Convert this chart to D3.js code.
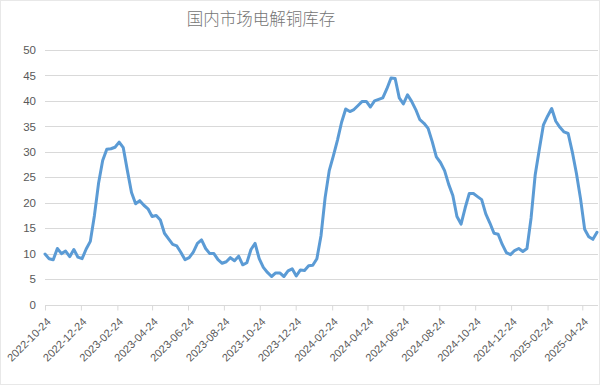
<!DOCTYPE html>
<html>
<head>
<meta charset="utf-8">
<script src="https://cdn.jsdelivr.net/npm/d3@7"></script>
<style>
  body { margin: 0; background: #fff; }
  text { font-family: "Liberation Sans", Arial, sans-serif; }
</style>
</head>
<body>
<div id="chart"></div>
<script>
// 周度日期（周一）
var dates = [
  "2022-10-24","2022-10-31","2022-11-07","2022-11-14","2022-11-21","2022-11-28","2022-12-05","2022-12-12","2022-12-19","2022-12-26",
  "2023-01-02","2023-01-09","2023-01-16","2023-01-23","2023-01-30","2023-02-06","2023-02-13","2023-02-20","2023-02-27",
  "2023-03-06","2023-03-13","2023-03-20","2023-03-27","2023-04-03","2023-04-10","2023-04-17","2023-04-24",
  "2023-05-01","2023-05-08","2023-05-15","2023-05-22","2023-05-29","2023-06-05","2023-06-12","2023-06-19","2023-06-26",
  "2023-07-03","2023-07-10","2023-07-17","2023-07-24","2023-07-31","2023-08-07","2023-08-14","2023-08-21","2023-08-28",
  "2023-09-04","2023-09-11","2023-09-18","2023-09-25","2023-10-02","2023-10-09","2023-10-16","2023-10-23","2023-10-30",
  "2023-11-06","2023-11-13","2023-11-20","2023-11-27","2023-12-04","2023-12-11","2023-12-18","2023-12-25",
  "2024-01-01","2024-01-08","2024-01-15","2024-01-22","2024-01-29","2024-02-05","2024-02-12","2024-02-19","2024-02-26",
  "2024-03-04","2024-03-11","2024-03-18","2024-03-25","2024-04-01","2024-04-08","2024-04-15","2024-04-22","2024-04-29",
  "2024-05-06","2024-05-13","2024-05-20","2024-05-27","2024-06-03","2024-06-10","2024-06-17","2024-06-24",
  "2024-07-01","2024-07-08","2024-07-15","2024-07-22","2024-07-29","2024-08-05","2024-08-12","2024-08-19","2024-08-26",
  "2024-09-02","2024-09-09","2024-09-16","2024-09-23","2024-09-30","2024-10-07","2024-10-14","2024-10-21","2024-10-28",
  "2024-11-04","2024-11-11","2024-11-18","2024-11-25","2024-12-02","2024-12-09","2024-12-16","2024-12-23","2024-12-30",
  "2025-01-06","2025-01-13","2025-01-20","2025-01-27","2025-02-03","2025-02-10","2025-02-17","2025-02-24",
  "2025-03-03","2025-03-10","2025-03-17","2025-03-24","2025-03-31","2025-04-07","2025-04-14","2025-04-21","2025-04-28",
  "2025-05-05","2025-05-12","2025-05-19"
];

// 库存（万吨）
var stock = [
  9.9, 9.0, 8.8, 11.0, 10.0, 10.5, 9.4, 10.8, 9.3, 9.0,
  10.9, 12.4, 17.5, 23.8, 28.3, 30.5, 30.6, 30.9, 31.9,
  30.8, 26.3, 22.0, 19.8, 20.4, 19.5, 18.8, 17.3,
  17.5, 16.6, 14.0, 12.9, 11.8, 11.5, 10.2, 8.8, 9.2,
  10.3, 12.0, 12.7, 11.0, 10.0, 10.0, 8.8, 8.1, 8.4,
  9.2, 8.6, 9.5, 7.8, 8.2, 10.8, 12.0, 9.0, 7.3,
  6.3, 5.5, 6.2, 6.2, 5.5, 6.6, 7.0, 5.6,
  6.8, 6.7, 7.6, 7.7, 9.0, 13.5, 21.0, 26.3, 29.2,
  32.3, 35.8, 38.4, 37.9, 38.3, 39.1, 39.9, 39.9, 38.8,
  40.0, 40.3, 40.6, 42.4, 44.5, 44.4, 40.6, 39.4,
  41.2, 39.9, 38.3, 36.3, 35.6, 34.6, 32.0, 29.0, 27.9,
  26.3, 23.6, 21.4, 17.3, 15.8, 19.0, 21.8, 21.8, 21.2,
  20.6, 17.8, 16.0, 14.0, 13.8, 11.8, 10.2, 9.8, 10.6,
  11.0, 10.4, 11.0, 17.0, 25.5, 30.5, 35.3, 37.0,
  38.5, 36.0, 34.8, 33.9, 33.6, 30.0, 25.8, 20.8, 14.8,
  13.3, 12.8, 14.2
];

var tickLabels = [
  "2022-10-24","2022-12-24","2023-02-24","2023-04-24","2023-06-24","2023-08-24",
  "2023-10-24","2023-12-24","2024-02-24","2024-04-24","2024-06-24","2024-08-24",
  "2024-10-24","2024-12-24","2025-02-24","2025-04-24"
];
var yTicks = [0, 5, 10, 15, 20, 25, 30, 35, 40, 45, 50];

var width = 600, height = 385;
var parse = d3.timeParse("%Y-%m-%d");
var data = dates.map(function (d, i) { return { date: parse(d), value: stock[i] }; });

var svg = d3.select("#chart").append("svg")
  .attr("width", width)
  .attr("height", height);

svg.append("rect")
  .attr("x", 0.5).attr("y", 0.5)
  .attr("width", width - 1).attr("height", height - 1)
  .attr("fill", "#fff")
  .attr("stroke", "#e8e8e8");

var x = d3.scaleTime()
  .domain([parse("2022-10-24"), parse("2025-05-19")])
  .range([45, 597]);
var y = d3.scaleLinear().domain([0, 50]).range([304.5, 50]);

// 标题
svg.append("text")
  .attr("x", 261).attr("y", 25)
  .attr("text-anchor", "middle")
  .style("font-family", "'Noto Sans CJK SC', sans-serif")
  .style("font-size", "16.5px")
  .style("font-weight", 300)
  .attr("fill", "#757575")
  .text("国内市场电解铜库存");

// 网格线
svg.append("g")
  .selectAll("line")
  .data(yTicks.slice(1))
  .enter().append("line")
  .attr("x1", 45).attr("x2", 598)
  .attr("y1", function (d) { return Math.round(y(d)) + 0.5; })
  .attr("y2", function (d) { return Math.round(y(d)) + 0.5; })
  .attr("stroke", "#d9d9d9");

// Y 轴
var yAxis = svg.append("g")
  .attr("transform", "translate(36,0)")
  .call(d3.axisLeft(y).tickValues(yTicks).tickSize(0).tickPadding(0));
yAxis.select(".domain").remove();
yAxis.selectAll("text")
  .attr("fill", "#595959")
  .style("font-size", "11.5px")
  .style("font-family", "'Liberation Sans', Arial, sans-serif");

// X 轴
var xAxis = svg.append("g")
  .attr("transform", "translate(0," + (Math.round(y(0)) + 0.5) + ")")
  .call(d3.axisBottom(x)
    .tickValues(tickLabels.map(parse))
    .tickFormat(d3.timeFormat("%Y-%m-%d"))
    .tickSize(5)
    .tickSizeOuter(0));
xAxis.select(".domain")
  .attr("d", "M45,0H598")
  .attr("stroke", "#d9d9d9");
xAxis.selectAll(".tick line").attr("stroke", "#d9d9d9");
xAxis.selectAll(".tick text")
  .attr("fill", "#595959")
  .style("font-size", "11px")
  .style("font-family", "'Liberation Sans', Arial, sans-serif")
  .attr("text-anchor", "end")
  .attr("dy", "0")
  .attr("y", 0)
  .attr("transform", "translate(6,17) rotate(-45)");

// 折线
var line = d3.line()
  .x(function (d) { return x(d.date); })
  .y(function (d) { return y(d.value); });

svg.append("path")
  .datum(data)
  .attr("d", line)
  .attr("fill", "none")
  .attr("stroke", "#5b9bd5")
  .attr("stroke-width", 3)
  .attr("stroke-linejoin", "round")
  .attr("stroke-linecap", "round");
</script>
</body>
</html>
